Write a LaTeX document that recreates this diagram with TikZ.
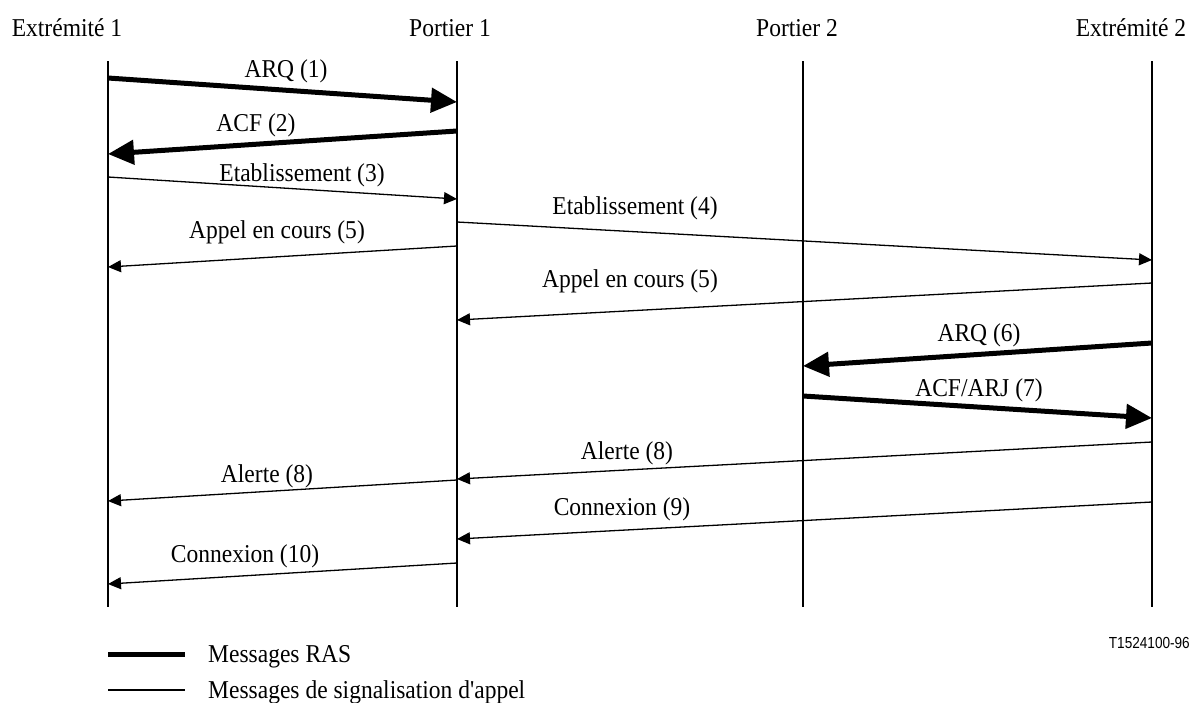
\documentclass[tikz,border=0pt]{standalone}
\usepackage{fontspec}
\setmainfont{Liberation Serif}[FakeStretch=0.915,Ligatures=TeXOff]
\newfontfamily\sansf{Liberation Sans}[FakeStretch=0.85]
\usetikzlibrary{arrows.meta}
\begin{document}
\begin{tikzpicture}[x=1pt,y=-1pt,
  lifeline/.style={line width=2pt},
  rasmsg/.style={line width=5pt,-{Triangle[length=26pt,width=24pt]}},
  sigmsg/.style={line width=1.3pt,-{Triangle[length=13pt,width=12pt]}},
  lbl/.style={font=\fontsize{25.7}{30}\selectfont,anchor=base,inner sep=0pt},
  hdr/.style={font=\fontsize{25.7}{30}\selectfont,anchor=base,inner sep=0pt},
]
\useasboundingbox (0,0) rectangle (1192,702);

% headers
\node[hdr] (h1) at (67,36) {Extrémité 1};
\node[hdr] (h2) at (450,36) {Portier 1};
\node[hdr] (h3) at (797,36) {Portier 2};
\node[hdr] (h4) at (1131,36) {Extrémité 2};

% lifelines
\coordinate (e1t) at (108,61); \coordinate (e1b) at (108,607);
\coordinate (p1t) at (457,61); \coordinate (p1b) at (457,607);
\coordinate (p2t) at (803,61); \coordinate (p2b) at (803,607);
\coordinate (e2t) at (1152,61); \coordinate (e2b) at (1152,607);
\draw[lifeline] (e1t) -- (e1b);
\draw[lifeline] (p1t) -- (p1b);
\draw[lifeline] (p2t) -- (p2b);
\draw[lifeline] (e2t) -- (e2b);

% message end points
\coordinate (m1a) at (108,78);   \coordinate (m1b) at (457,102);
\coordinate (m2a) at (457,131);  \coordinate (m2b) at (108,154);
\coordinate (m3a) at (108,177);  \coordinate (m3b) at (457,199);
\coordinate (m4a) at (457,222);  \coordinate (m4b) at (1152,260);
\coordinate (m5a) at (457,246);  \coordinate (m5b) at (108,267);
\coordinate (m6a) at (1152,283); \coordinate (m6b) at (457,320);
\coordinate (m7a) at (1152,343); \coordinate (m7b) at (803,366);
\coordinate (m8a) at (803,396);  \coordinate (m8b) at (1152,418);
\coordinate (m9a) at (1152,442); \coordinate (m9b) at (457,479);
\coordinate (m10a) at (457,480); \coordinate (m10b) at (108,501);
\coordinate (m11a) at (1152,502);\coordinate (m11b) at (457,539);
\coordinate (m12a) at (457,563); \coordinate (m12b) at (108,584);

\draw[rasmsg] (m1a) -- (m1b);
\draw[rasmsg] (m2a) -- (m2b);
\draw[sigmsg] (m3a) -- (m3b);
\draw[sigmsg] (m4a) -- (m4b);
\draw[sigmsg] (m5a) -- (m5b);
\draw[sigmsg] (m6a) -- (m6b);
\draw[rasmsg] (m7a) -- (m7b);
\draw[rasmsg] (m8a) -- (m8b);
\draw[sigmsg] (m9a) -- (m9b);
\draw[sigmsg] (m10a) -- (m10b);
\draw[sigmsg] (m11a) -- (m11b);
\draw[sigmsg] (m12a) -- (m12b);

% labels
\node[lbl] (l1) at (286,77) {ARQ (1)};
\node[lbl] (l2) at (256,131) {ACF (2)};
\node[lbl] (l3) at (302,181) {Etablissement (3)};
\node[lbl] (l4) at (635,214) {Etablissement (4)};
\node[lbl] (l5) at (277,238) {Appel en cours (5)};
\node[lbl] (l6) at (630,287) {Appel en cours (5)};
\node[lbl] (l7) at (979,341) {ARQ (6)};
\node[lbl] (l8) at (979,396) {ACF/ARJ (7)};
\node[lbl] (l9) at (627,459) {Alerte (8)};
\node[lbl] (l10) at (267,482) {Alerte (8)};
\node[lbl] (l11) at (622,515) {Connexion (9)};
\node[lbl] (l12) at (245,562) {Connexion (10)};

% reference
\node[font=\sansf\fontsize{16}{19}\selectfont,anchor=base east,inner sep=0pt] (ref) at (1190,648) {T1524100-96};

% legend
\coordinate (g1a) at (108,654); \coordinate (g1b) at (185,654);
\coordinate (g2a) at (108,690); \coordinate (g2b) at (185,690);
\draw[line width=5pt] (g1a) -- (g1b);
\draw[line width=1.5pt] (g2a) -- (g2b);
\node[lbl,anchor=base west] (t1) at (208,662) {Messages RAS};
\node[lbl,anchor=base west] (t2) at (208,698) {Messages de signalisation d'appel};
\end{tikzpicture}
\end{document}
